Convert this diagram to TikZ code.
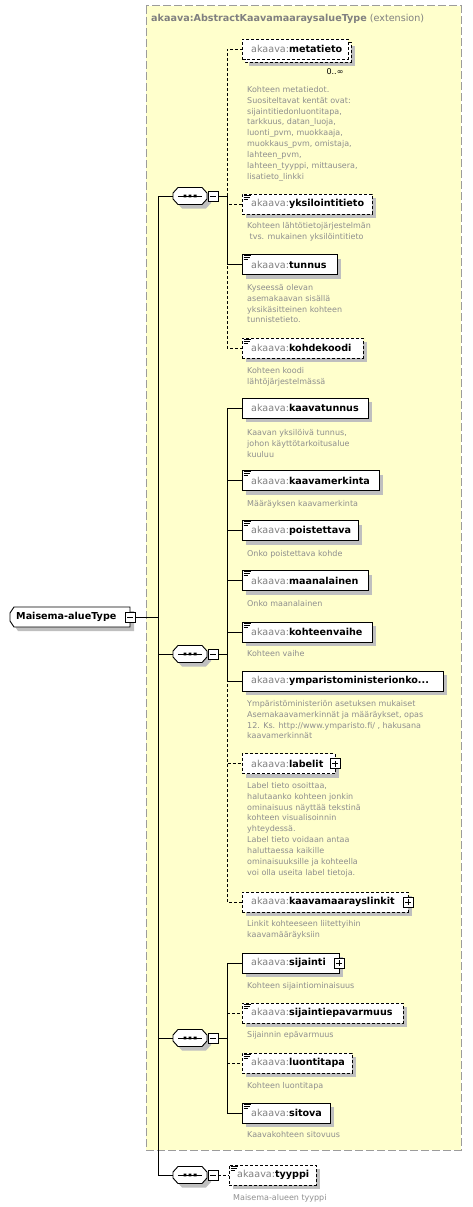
\documentclass[tikz,border=0pt]{standalone}
\usepackage{fontspec}
\setmainfont{DejaVu Sans}
\usetikzlibrary{shadows,calc}
\definecolor{ybg}{HTML}{FFFFCC}
\definecolor{ybd}{HTML}{9C9C9C}
\definecolor{pfx}{HTML}{808080}
\definecolor{dsc}{HTML}{8E8E8E}
\definecolor{shd}{HTML}{BFBFBF}
\pgfdeclarelayer{back}
\pgfdeclarelayer{bg}
\pgfsetlayers{back,bg,main}
\newcommand\nmfont{\fontsize{9.6}{11}\selectfont}
\newcommand\dsfont{\fontsize{8}{10.9}\selectfont}
\newcommand\enm[2]{\makebox[#1pt][l]{\hspace*{9pt}\textcolor{pfx}{akaava:}\textbf{#2}}}
\newcommand\ico[1]{\begin{scope}[shift={(#1.north west)}]\draw[line width=0.7pt] (1.5,1.5) -- ++(7,0) (1.5,3.5) -- ++(6,0) (1.5,5.5) -- ++(4,0);\end{scope}}
\newcommand\sgn[2]{\begin{scope}[shift={(#1.center)}]\draw[line width=0.8pt] (-3,0) -- (3,0);\ifnum#2=1\relax\draw[line width=0.8pt] (0,-3) -- (0,3);\fi\end{scope}}
\def\octp{(-17,-3) -- (-12,-8.5) -- (12,-8.5) -- (17,-3) -- (17,3) -- (12,8.5) -- (-12,8.5) -- (-17,3) -- cycle}
\newcommand\seqc[3]{%
 \node[minimum width=34pt, minimum height=17pt, inner sep=0pt] (#1) at (#2,#3) {};
 \begin{scope}[shift={(#2,#3)}]
  \fill[shd, shift={(4,4)}] \octp;
  \filldraw[fill=white, draw=black, line width=0.9pt] \octp;
  \draw[line width=0.9pt] (-12,0) -- (12,0);
  \fill (-6.5,-1.4) rectangle (-3.7,1.4) (-1.4,-1.4) rectangle (1.4,1.4) (3.7,-1.4) rectangle (6.5,1.4);
 \end{scope}
 \node[sq] (#1m) at (#2+23,#3) {};
 \sgn{#1m}{0}}
\newcommand\dnode[3]{\node[desc] (#1) at #2 {\strut #3};}
\begin{document}
\begin{tikzpicture}[x=1pt,y=-1pt, line width=0.9pt,
  elem/.style={draw=black, fill=white, anchor=west, inner sep=0pt, minimum height=20pt, font=\nmfont, general shadow={fill=shd, shadow xshift=4pt, shadow yshift=-4pt}},
  opt/.style={elem, dash pattern=on 3pt off 2pt},
  optns/.style={draw=black, fill=white, anchor=west, inner sep=0pt, minimum height=20pt, font=\nmfont, dash pattern=on 3pt off 2pt},
  desc/.style={anchor=north west, inner sep=0pt, align=left, font=\dsfont, text=dsc},
  sq/.style={draw=black, fill=white, minimum size=10pt, inner sep=0pt, line width=0.8pt},
  link/.style={draw=black, line width=0.9pt},
  olink/.style={link, dash pattern=on 3pt off 2pt}]
\useasboundingbox (0,0) rectangle (473,1207);
\begin{pgfonlayer}{back}
 \filldraw[fill=ybg, draw=ybd, line width=1pt, dash pattern=on 8pt off 3pt] (146,6) rectangle (461,1150);
\end{pgfonlayer}
\node[anchor=west, inner sep=0pt, font=\nmfont, text=pfx] (title) at (151,19) {\textbf{akaava:AbstractKaavamaaraysalueType} (extension)};

% root
\node[anchor=west, inner sep=0pt, minimum height=20pt, font=\nmfont] (ma) at (10,617) {\makebox[120pt][l]{\hspace*{6pt}\textbf{Maisema-alueType}}};
\begin{pgfonlayer}{bg}
 \def\map{(10,613) -- (14,607) -- (130,607) -- (130,627) -- (14,627) -- (10,621) -- cycle}
 \fill[shd, shift={(4,4)}] \map;
 \filldraw[fill=white, draw=black, line width=0.9pt] \map;
\end{pgfonlayer}
\node[sq] (mam) at (ma.east) {};
\sgn{mam}{0}

% compositors
\seqc{s1}{190}{196}
\seqc{s2}{190}{654}
\seqc{s3}{190}{1038}
\seqc{s4}{190}{1175}

% group 1
\fill[shd] (249,46) rectangle (355,66);
\filldraw[fill=white, draw=black, dash pattern=on 3pt off 2pt] (245,42) rectangle (351,62);
\node[optns] (metatieto) at (242,49) {\enm{106}{metatieto}};
\node[font=\dsfont, inner sep=0pt] (card) at (335,72) {0..∞};
\dnode{d-metatieto}{(247,84.4)}{Kohteen metatiedot.\\Suositeltavat kentät ovat:\\sijaintitiedonluontitapa,\\tarkkuus, datan\_luoja,\\luonti\_pvm, muokkaaja,\\muokkaus\_pvm, omistaja,\\lahteen\_pvm,\\lahteen\_tyyppi, mittausera,\\lisatieto\_linkki}
\node[opt] (yksilointitieto) at (242,204) {\enm{130}{yksilointitieto}}; \ico{yksilointitieto}
\dnode{d-yksilointitieto}{(247,220.4)}{Kohteen lähtötietojärjestelmän\\\hspace*{2.5pt}tvs. mukainen yksilöintitieto}
\node[elem] (tunnus) at (242,264.5) {\enm{95}{tunnus}}; \ico{tunnus}
\dnode{d-tunnus}{(247,282.4)}{Kyseessä olevan\\asemakaavan sisällä\\yksikäsitteinen kohteen\\tunnistetieto.}
\node[opt] (kohdekoodi) at (242,348) {\enm{121}{kohdekoodi}}; \ico{kohdekoodi}
\dnode{d-kohdekoodi}{(247,365.4)}{Kohteen koodi\\lähtöjärjestelmässä}

% group 2
\node[elem] (kaavatunnus) at (242,408) {\enm{126}{kaavatunnus}};
\dnode{d-kaavatunnus}{(247,427.4)}{Kaavan yksilöivä tunnus,\\johon käyttötarkoitusalue\\kuuluu}
\node[elem] (kaavamerkinta) at (242,480.5) {\enm{137}{kaavamerkinta}}; \ico{kaavamerkinta}
\dnode{d-kaavamerkinta}{(247,498.4)}{Määräyksen kaavamerkinta}
\node[elem] (poistettava) at (242,530.5) {\enm{116}{poistettava}}; \ico{poistettava}
\dnode{d-poistettava}{(247,548.4)}{Onko poistettava kohde}
\node[elem] (maanalainen) at (242,580.5) {\enm{126}{maanalainen}}; \ico{maanalainen}
\dnode{d-maanalainen}{(247,598.4)}{Onko maanalainen}
\node[elem] (kohteenvaihe) at (242,632) {\enm{130}{kohteenvaihe}}; \ico{kohteenvaihe}
\dnode{d-kohteenvaihe}{(247,648.4)}{Kohteen vaihe}
\node[elem] (ymp) at (242,681) {\enm{201}{ymparistoministerionko...}};
\dnode{d-ymp}{(247,698.4)}{Ympäristöministeriön asetuksen mukaiset\\Asemakaavamerkinnät ja määräykset, opas\\12. Ks. http://www.ymparisto.fi/ , hakusana\\kaavamerkinnät}
\node[opt] (labelit) at (242,763.5) {\enm{93}{labelit}};
\node[sq] (labelitp) at (labelit.east) {}; \sgn{labelitp}{1}
\dnode{d-labelit}{(247,780.4)}{Label tieto osoittaa,\\halutaanko kohteen jonkin\\ominaisuus näyttää tekstinä\\kohteen visualisoinnin\\yhteydessä.\\Label tieto voidaan antaa\\haluttaessa kaikille\\ominaisuuksille ja kohteella\\voi olla useita label tietoja.}
\node[opt] (linkit) at (242,902) {\enm{166}{kaavamaarayslinkit}};
\node[sq] (linkitp) at (linkit.east) {}; \sgn{linkitp}{1}
\dnode{d-linkit}{(247,918.4)}{Linkit kohteeseen liitettyihin\\kaavamääräyksiin}

% group 3
\node[elem] (sijainti) at (242,963) {\enm{97}{sijainti}};
\node[sq] (sijaintip) at (sijainti.east) {}; \sgn{sijaintip}{1}
\dnode{d-sijainti}{(247,980.4)}{Kohteen sijaintiominaisuus}
\node[opt] (sijaintiepavarmuus) at (242,1013) {\enm{161}{sijaintiepavarmuus}}; \ico{sijaintiepavarmuus}
\dnode{d-sijaintiepavarmuus}{(247,1029.4)}{Sijainnin epävarmuus}
\node[opt] (luontitapa) at (242,1063) {\enm{110}{luontitapa}}; \ico{luontitapa}
\dnode{d-luontitapa}{(247,1080.4)}{Kohteen luontitapa}
\node[elem] (sitova) at (242,1113) {\enm{88}{sitova}}; \ico{sitova}
\dnode{d-sitova}{(247,1129.4)}{Kaavakohteen sitovuus}

% group 4
\node[opt] (tyyppi) at (229,1175) {\makebox[87pt][l]{\hspace*{8pt}\textcolor{pfx}{akaava:}\textbf{tyyppi}}}; \ico{tyyppi}
\dnode{d-tyyppi}{(233,1192.4)}{Maisema-alueen tyyppi}

% connectors
\coordinate (sp) at (158,617);
\draw[link] (mam.east) -- (sp);
\draw[link] (sp) |- (s1.west);
\draw[link] (sp) |- (s2.west);
\draw[link] (sp) |- (s3.west);
\draw[link] (sp) |- (s4.west);

\coordinate (b1) at (227,196);
\draw[link] (s1m.east) -- (b1);
\draw[olink] (b1) |- (metatieto.west);
\draw[olink] (b1) |- (yksilointitieto.west);
\draw[olink] (b1) |- (kohdekoodi.west);
\draw[link] (b1) |- (tunnus.west);

\coordinate (b2) at (227,654);
\draw[link] (s2m.east) -- (b2);
\draw[olink] (b2) |- (labelit.west);
\draw[olink] (b2) |- (linkit.west);
\draw[link] (b2) |- (kaavatunnus.west);
\draw[link] (b2) |- (kaavamerkinta.west);
\draw[link] (b2) |- (poistettava.west);
\draw[link] (b2) |- (maanalainen.west);
\draw[link] (b2) |- (kohteenvaihe.west);
\draw[link] (b2) |- (ymp.west);

\coordinate (b3) at (227,1038);
\draw[link] (s3m.east) -- (b3);
\draw[olink] (b3) |- (sijaintiepavarmuus.west);
\draw[olink] (b3) |- (luontitapa.west);
\draw[link] (b3) |- (sijainti.west);
\draw[link] (b3) |- (sitova.west);

\draw[olink] (s4m.east) -- (tyyppi.west);
\end{tikzpicture}
\end{document}
